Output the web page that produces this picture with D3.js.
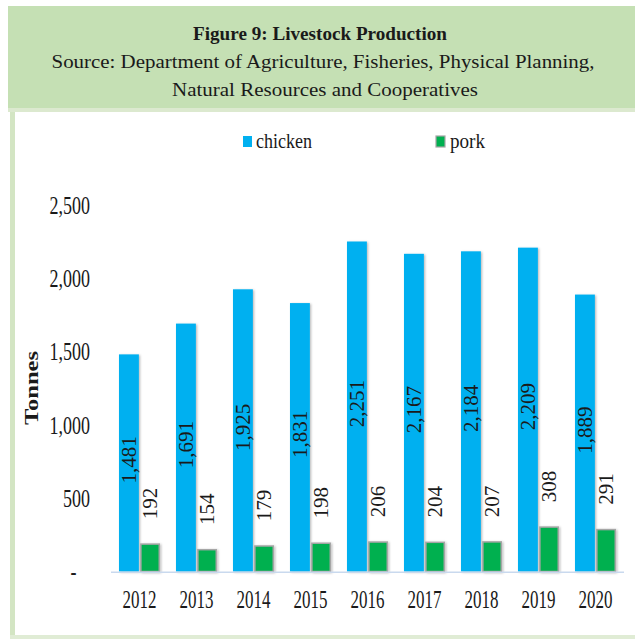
<!DOCTYPE html>
<html>
<head>
<meta charset="utf-8">
<script src="https://cdn.jsdelivr.net/npm/d3@7"></script>
<style>
  html, body { margin: 0; padding: 0; background: #ffffff; }
  svg { display: block; }
  text { font-family: "Liberation Serif", "Times New Roman", serif; fill: #1a1a1a; }
</style>
</head>
<body>
<svg id="chart" width="635" height="639"></svg>
<script>
// Livestock production by year (tonnes)
const years = ["2012", "2013", "2014", "2015", "2016", "2017", "2018", "2019", "2020"];
const chicken = [1481, 1691, 1925, 1831, 2251, 2167, 2184, 2209, 1889];
const pork = [192, 154, 179, 198, 206, 204, 207, 308, 291];
const seriesNames = ["chicken", "pork"];
const yTicks = [0, 500, 1000, 1500, 2000, 2500];

const titleText = "Figure 9: Livestock Production";
const sourceLines = [
  "Source: Department of Agriculture, Fisheries, Physical Planning,",
  "Natural Resources and Cooperatives"
];
const yTitle = "Tonnes";

const colors = { chicken: "#00b0f0", pork: "#00b050" };

const svg = d3.select("#chart");
const W = 635, H = 639;

// soft shadow used on the bars
const defs = svg.append("defs");
const sh = defs.append("filter").attr("id", "barShadow")
  .attr("x", "-30%").attr("y", "-10%").attr("width", "160%").attr("height", "130%");
sh.append("feDropShadow").attr("dx", 1.2).attr("dy", 0.8)
  .attr("stdDeviation", 1).attr("flood-color", "#000").attr("flood-opacity", 0.28);

// ---- header band and frame ----
svg.append("rect").attr("x", 8).attr("y", 6).attr("width", W - 8).attr("height", 102)
  .attr("fill", "#c5e0b4");
svg.append("rect").attr("x", 8).attr("y", 108).attr("width", W - 8).attr("height", 4)
  .attr("fill", "#dce9cf");
svg.append("rect").attr("x", 10).attr("y", 112).attr("width", 5).attr("height", H - 112)
  .attr("fill", "#d3e5c3");
svg.append("rect").attr("x", 10).attr("y", 635).attr("width", W - 10).attr("height", 4)
  .attr("fill", "#e0ecd5");

// Squeeze a text element horizontally to a fraction of its natural width
function condense(sel, factor) {
  sel.each(function () {
    const len = this.getComputedTextLength();
    if (len > 0) {
      d3.select(this).attr("textLength", len * factor).attr("lengthAdjust", "spacingAndGlyphs");
    }
  });
}
function fitTo(sel, width) {
  sel.attr("textLength", width).attr("lengthAdjust", "spacingAndGlyphs");
}

// ---- titles ----
svg.append("text").attr("x", 320).attr("y", 40).attr("text-anchor", "middle")
  .attr("font-size", 19).attr("font-weight", "bold").text(titleText)
  .call(fitTo, 254);
svg.append("text").attr("x", 323).attr("y", 68).attr("text-anchor", "middle")
  .attr("font-size", 19).text(sourceLines[0])
  .call(fitTo, 543);
svg.append("text").attr("x", 325).attr("y", 96).attr("text-anchor", "middle")
  .attr("font-size", 19).text(sourceLines[1])
  .call(fitTo, 306);

// ---- scales ----
const x0 = d3.scaleBand().domain(years).range([111, 624])
  .paddingInner(0.28).paddingOuter(0.14);
const x1 = d3.scaleBand().domain(seriesNames).range([0, x0.bandwidth()])
  .paddingInner(0.06);
const y = d3.scaleLinear().domain([0, 2500]).range([571.5, 205]);

const rows = years.map((yr, i) => ({ year: yr, chicken: chicken[i], pork: pork[i] }));

// ---- y axis (labels only) ----
const yAxis = d3.axisLeft(y).tickValues(yTicks).tickSize(0).tickPadding(0)
  .tickFormat(d => d === 0 ? "-\u00a0\u00a0\u00a0" : d3.format(",")(d));
const yG = svg.append("g").attr("transform", "translate(90,0)").call(yAxis);
yG.select(".domain").remove();
yG.selectAll("text").attr("font-size", 25).attr("fill", "#222")
  .attr("font-family", "Liberation Serif, serif").attr("x", 0).attr("dy", "0.33em")
  .call(condense, 0.72);

// y axis title
svg.append("text").attr("transform", "translate(38,388) rotate(-90)")
  .attr("text-anchor", "middle").attr("font-size", 19).attr("font-weight", "bold")
  .text(yTitle).call(fitTo, 74);

// ---- bars ----
const groups = svg.append("g").selectAll("g").data(rows).join("g")
  .attr("transform", d => `translate(${x0(d.year)},0)`);

groups.append("rect")
  .attr("x", x1("chicken")).attr("width", x1.bandwidth())
  .attr("y", d => y(d.chicken)).attr("height", d => y(0) - y(d.chicken))
  .attr("fill", colors.chicken).attr("filter", "url(#barShadow)");

groups.append("rect")
  .attr("x", x1("pork") + 0.75).attr("width", x1.bandwidth() - 1.5)
  .attr("y", d => y(d.pork) + 0.75).attr("height", d => y(0) - y(d.pork) - 0.75)
  .attr("fill", colors.pork).attr("stroke", "#a6a6a6").attr("stroke-width", 1.5)
  .attr("filter", "url(#barShadow)");

// ---- x axis ----
const xAxis = d3.axisBottom(x0).tickSize(0).tickPadding(0);
const xG = svg.append("g").attr("transform", `translate(0,${y(0)})`).call(xAxis);
xG.select(".domain").attr("stroke", "#c9d9ee").attr("stroke-width", 1.6)
  .attr("d", `M${x0.range()[0]},0.8H${x0.range()[1]}`);
xG.selectAll("text").attr("font-size", 25).attr("fill", "#222")
  .attr("font-family", "Liberation Serif, serif").attr("y", 36).attr("dy", 0)
  .call(condense, 0.68);

// ---- data labels ----
const fmt = d3.format(",");
groups.append("text")
  .attr("transform", d => {
    const cx = x1("chicken") + x1.bandwidth() / 2;
    const cy = (y(d.chicken) + y(0)) / 2 - 3;
    return `translate(${cx},${cy}) rotate(-90)`;
  })
  .attr("text-anchor", "middle").attr("dy", "0.35em")
  .attr("font-size", 21).attr("fill", "#111").text(d => fmt(d.chicken));

groups.append("text")
  .attr("transform", d => {
    const cx = x1("pork") + x1.bandwidth() / 2;
    return `translate(${cx},${y(d.pork) - 24}) rotate(-90)`;
  })
  .attr("text-anchor", "start").attr("dy", "0.35em")
  .attr("font-size", 21).attr("fill", "#111").text(d => fmt(d.pork));

// ---- legend ----
const legendItems = [
  { name: "chicken", sx: 243, tx: 256, tw: 56 },
  { name: "pork", sx: 436, tx: 450, tw: 35 }
];
const lg = svg.append("g").selectAll("g").data(legendItems).join("g");
lg.append("rect")
  .attr("x", d => d.sx).attr("y", 136).attr("width", 9).attr("height", 11)
  .attr("fill", d => colors[d.name])
  .attr("stroke", d => d.name === "pork" ? "#a6a6a6" : "none")
  .attr("stroke-width", 1.2);
lg.append("text").attr("x", d => d.tx).attr("y", 148).attr("font-size", 22)
  .attr("fill", "#222").text(d => d.name)
  .each(function (d) { d3.select(this).call(fitTo, d.tw); });
</script>
</body>
</html>
